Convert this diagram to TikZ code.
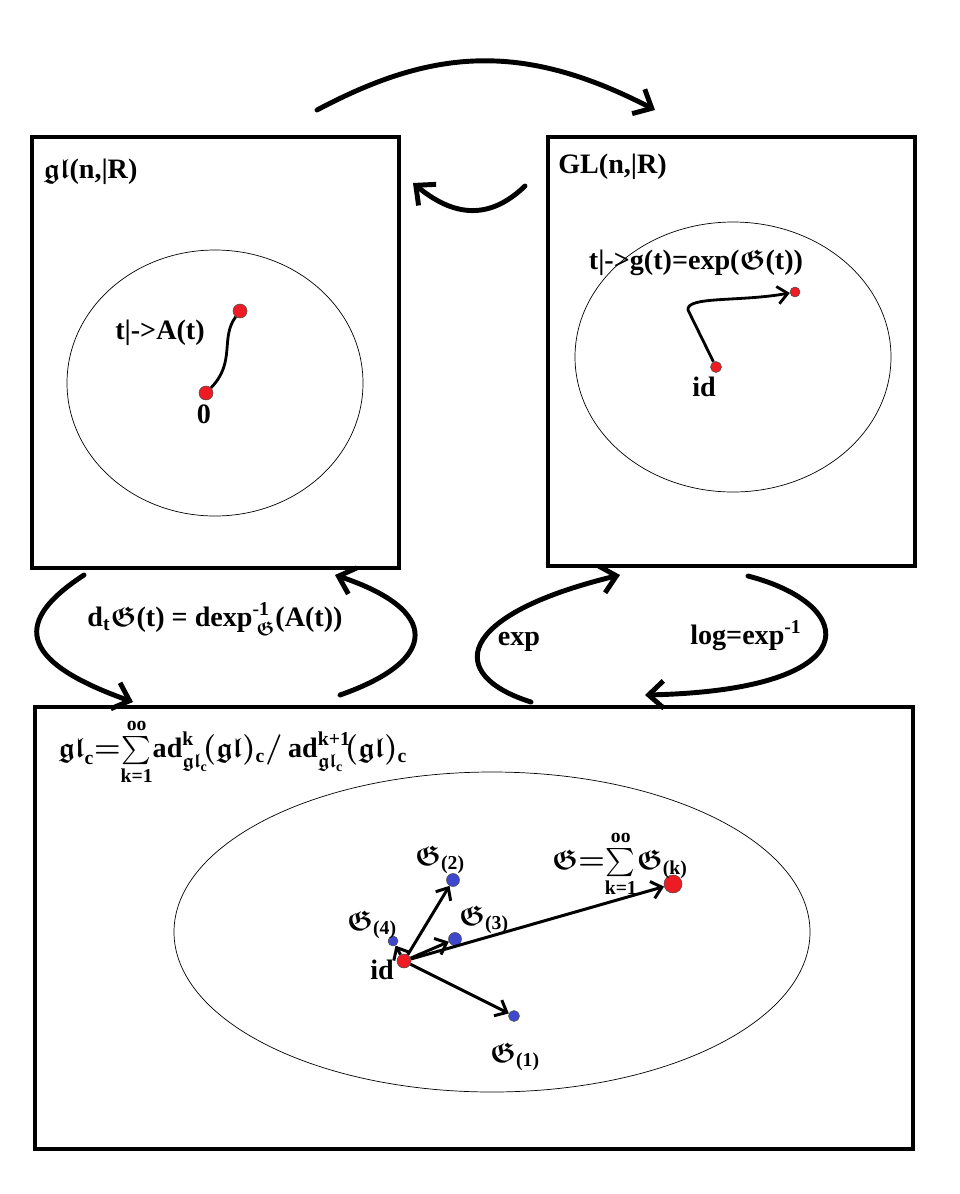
\documentclass[tikz,border=0pt]{standalone}
\usepackage{amsmath,amssymb}
\usepackage{fontspec}
\setmainfont{Liberation Serif}
\usetikzlibrary{arrows.meta}
\definecolor{dotred}{RGB}{237,28,36}
\definecolor{dotblue}{RGB}{63,72,204}

\begin{document}
\begin{tikzpicture}[
  x=0.02cm, y=-0.02cm,
  panel/.style={line width=2.3pt},
  region/.style={line width=0.4pt},
  bigarrow/.style={line width=2.8pt, line cap=round, -{Straight Barb[length=3mm,width=5.5mm]}},
  vecarrow/.style={line width=1.7pt, -{Straight Barb[length=2mm,width=3.5mm]}},
  reddot/.style={circle, draw=black!70, line width=0.3pt, fill=dotred, inner sep=0pt, minimum size=#1},
  bluedot/.style={circle, draw=black!70, line width=0.3pt, fill=dotblue, inner sep=0pt, minimum size=#1},
  lbl/.style={font=\fontsize{16}{19}\selectfont\bfseries\boldmath, inner sep=0pt},
]
  \useasboundingbox (0,0) rectangle (960,1194);

  % Panels
  \draw[panel] (32,137) rectangle (399,568);
  \draw[panel] (548,137) rectangle (915,566);
  \draw[panel] (35,707) rectangle (913,1149);

  % Regions
  \draw[region] (215,383) ellipse [x radius=148, y radius=133];
  \draw[region] (733,357) ellipse [x radius=158, y radius=135];
  \draw[region] (492,932) ellipse [x radius=318, y radius=160];

  % Panel titles
  \node[lbl, anchor=west] (gltitle) at (43,172) {$\mathfrak{gl}$(n,|R)};
  \node[lbl, anchor=west] (GLtitle) at (558,167) {GL(n,|R)};

  % Curve in the Lie algebra
  \node[reddot=0.28cm] (zero) at (206,393) {};
  \node[reddot=0.28cm] (at) at (240,311) {};
  \draw[line width=1.6pt] (zero) .. controls (236,362) and (220,338) .. (at);
  \node[lbl] (atlbl) at (160,333) {t|->A(t)};
  \node[lbl] (zerolbl) at (204,414) {0};

  % Curve in the group
  \node[reddot=0.22cm] (idr) at (716,367) {};
  \node[reddot=0.2cm] (gt) at (795,292) {};
  \draw[line width=1.6pt, -{Straight Barb[length=2mm,width=3.5mm]}]
    (idr) -- (688,310) .. controls (686,296) and (740,302) .. (gt);
  \node[lbl] (gtlbl) at (696,263) {t|->g(t)=exp($\mathfrak{G}$(t))};
  \node[lbl] (idrlbl) at (704,387) {id};

  % Arrows between panels
  \coordinate (topS) at (317,110);
  \coordinate (topE) at (655,110);
  \draw[bigarrow] (topS) .. controls (430,50) and (520,40) .. (topE);
  \coordinate (smS) at (525,186);
  \coordinate (smE) at (413,183);
  \draw[bigarrow] (smS) .. controls (495,215) and (460,222) .. (smE);
  \coordinate (ldS) at (84,575);
  \coordinate (ldE) at (133,702);
  \draw[bigarrow] (ldS) .. controls (15,620) and (15,660) .. (ldE);
  \coordinate (ruS) at (340,695);
  \coordinate (ruE) at (335,575);
  \draw[bigarrow] (ruS) .. controls (440,660) and (440,610) .. (ruE);
  \coordinate (exS) at (531,702);
  \coordinate (exE) at (620,575);
  \draw[bigarrow] (exS) .. controls (445,675) and (455,615) .. (exE);
  \coordinate (lgS) at (748,576);
  \coordinate (lgE) at (645,695);
  \draw[bigarrow] (lgS) .. controls (860,605) and (870,690) .. (lgE);

  \node[lbl] (dtlbl) at (215,619)
    {d\textsubscript{t}$\mathfrak{G}$(t) = dexp$^{\textbf{-1}}_{\,\mathfrak{G}}$(A(t))};
  \node[lbl] (explbl) at (519,642) {exp};
  \node[lbl] (loglbl) at (746,636) {log=exp$^{\textbf{-1}}$};

  % Graded pieces
  \node[lbl, anchor=west] (gradlbl) at (58,752)
    {$\mathfrak{gl}_{\textbf{c}}{=}\!\sum\limits_{\textbf{k=1}}^{\textbf{oo}}\!\textbf{ad}^{\textbf{k}}_{\mathfrak{gl}_{\textbf{c}}}\!(\mathfrak{gl})_{\textbf{c}}/\,\textbf{ad}^{\textbf{k+1}}_{\mathfrak{gl}_{\textbf{c}}}\!(\mathfrak{gl})_{\textbf{c}}$};

  \node[reddot=0.28cm] (idb) at (404,961) {};
  \node[bluedot=0.22cm] (g1) at (514,1016) {};
  \node[bluedot=0.26cm] (g2) at (453,880) {};
  \node[bluedot=0.26cm] (g3) at (455,939) {};
  \node[bluedot=0.2cm] (g4) at (393,941) {};
  \node[reddot=0.36cm] (gk) at (673,884) {};

  \draw[vecarrow] (idb) -- (g1);
  \draw[vecarrow] (idb) -- (g2);
  \draw[vecarrow] (idb) -- (g3);
  \draw[vecarrow] (idb) -- (g4);
  \draw[vecarrow] (idb) -- (gk);

  \node[lbl] (idblbl) at (382,970) {id};
  \node[lbl] (g1lbl) at (515,1057) {$\mathfrak{G}_{\textbf{(1)}}$};
  \node[lbl] (g2lbl) at (440,860) {$\mathfrak{G}_{\textbf{(2)}}$};
  \node[lbl] (g3lbl) at (484,920) {$\mathfrak{G}_{\textbf{(3)}}$};
  \node[lbl] (g4lbl) at (372,925) {$\mathfrak{G}_{\textbf{(4)}}$};
  \node[lbl] (gklbl) at (620,864)
    {$\mathfrak{G}{=}\!\sum\limits_{\textbf{k=1}}^{\textbf{oo}}\!\mathfrak{G}_{\textbf{(k)}}$};
\end{tikzpicture}
\end{document}
